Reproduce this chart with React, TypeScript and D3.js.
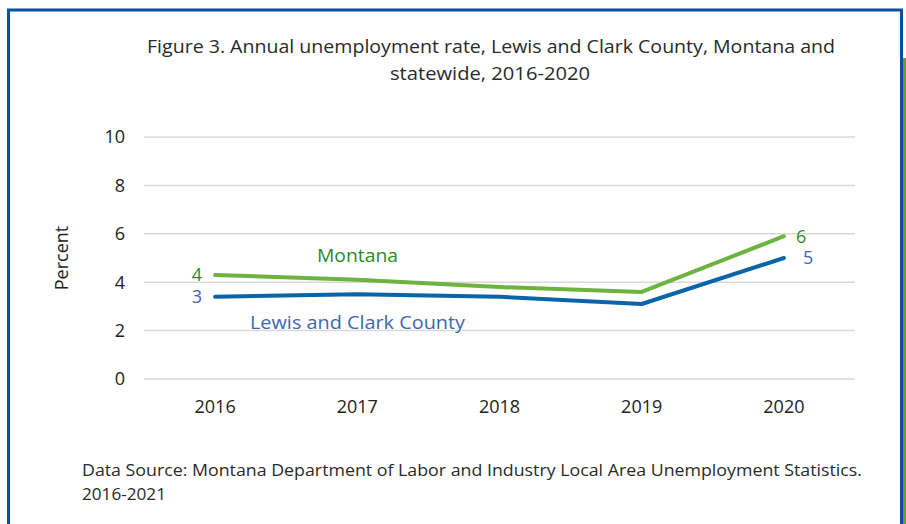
import React from "react";
import * as d3 from "d3";

const years = ["2016", "2017", "2018", "2019", "2020"];
const montana = [4.3, 4.1, 3.8, 3.6, 5.9];
const lewisClark = [3.4, 3.5, 3.4, 3.1, 5.0];
const yTicks = [0, 2, 4, 6, 8, 10];
const montanaEndLabels = ["4", "6"];
const lewisEndLabels = ["3", "5"];

const W = 906;
const H = 524;

export default function App() {
  const x = d3.scaleBand<string>().domain(years).range([144, 855]);
  const y = d3.scaleLinear().domain([0, 10]).range([379, 137]);
  const cx = (d: string) => (x(d) as number) + x.bandwidth() / 2;
  const line = d3
    .line<number>()
    .x((_, i) => cx(years[i]))
    .y((v) => y(v));

  const tickFont = "'Segoe UI', 'Open Sans', 'Noto Sans', sans-serif";
  const textFont = "'Open Sans', 'Noto Sans', sans-serif";
  const textColor = "#2a2a2a";

  return (
    <svg
      width={W}
      height={H}
      style={{ position: "absolute", left: 0, top: 0, background: "#fff" }}
    >
      <rect x={0} y={0} width={W} height={H} fill="#fff" />
      {/* frame */}
      <rect x={903} y={58} width={3} height={H - 58} fill="#6aa121" />
      <path
        d={`M8.5,${H} L8.5,10 L901.5,10 L901.5,${H}`}
        fill="none"
        stroke="#0a4f9f"
        strokeWidth={3}
      />

      <text
        x={147}
        y={53}
        textLength={688}
        lengthAdjust="spacingAndGlyphs"
        fontFamily={textFont}
        fontSize={18.5}
        fill={textColor}
      >
        Figure 3. Annual unemployment rate, Lewis and Clark County, Montana and
      </text>
      <text
        x={390}
        y={80}
        textLength={200}
        lengthAdjust="spacingAndGlyphs"
        fontFamily={textFont}
        fontSize={18.5}
        fill={textColor}
      >
        statewide, 2016-2020
      </text>

      {yTicks.map((t) => (
        <g key={t}>
          <line
            x1={144}
            x2={855}
            y1={y(t)}
            y2={y(t)}
            stroke="#d9d9d9"
            strokeWidth={1.5}
          />
          <text
            x={125}
            y={y(t)}
            dy="0.35em"
            textAnchor="end"
            fontFamily={tickFont}
            fontSize={18}
            fill="#222"
          >
            {t}
          </text>
        </g>
      ))}

      {years.map((yr) => (
        <text
          key={yr}
          x={cx(yr)}
          y={413}
          textAnchor="middle"
          fontFamily={tickFont}
          fontSize={18}
          fill="#222"
        >
          {yr}
        </text>
      ))}

      <text
        transform={`translate(68,258) rotate(-90)`}
        textAnchor="middle"
        fontFamily={tickFont}
        fontSize={18}
        fill="#222"
      >
        Percent
      </text>

      <path
        d={line(montana) || ""}
        fill="none"
        stroke="#6db33f"
        strokeWidth={4}
        strokeLinecap="round"
        strokeLinejoin="round"
      />
      <path
        d={line(lewisClark) || ""}
        fill="none"
        stroke="#0a64a8"
        strokeWidth={4}
        strokeLinecap="round"
        strokeLinejoin="round"
      />

      <text
        x={cx(years[0]) - 13}
        y={y(montana[0])}
        dy="0.35em"
        textAnchor="end"
        fontFamily={tickFont}
        fontSize={18}
        fill="#2e8b23"
      >
        {montanaEndLabels[0]}
      </text>
      <text
        x={cx(years[0]) - 13}
        y={y(lewisClark[0])}
        dy="0.35em"
        textAnchor="end"
        fontFamily={tickFont}
        fontSize={18}
        fill="#3d68b0"
      >
        {lewisEndLabels[0]}
      </text>
      <text
        x={cx(years[4]) + 12}
        y={y(montana[4])}
        dy="0.35em"
        textAnchor="start"
        fontFamily={tickFont}
        fontSize={18}
        fill="#2e8b23"
      >
        {montanaEndLabels[1]}
      </text>
      <text
        x={cx(years[4]) + 19}
        y={y(lewisClark[4])}
        dy="0.35em"
        textAnchor="start"
        fontFamily={tickFont}
        fontSize={18}
        fill="#3d68b0"
      >
        {lewisEndLabels[1]}
      </text>

      <text
        x={317}
        y={262}
        textLength={81}
        lengthAdjust="spacingAndGlyphs"
        fontFamily={textFont}
        fontSize={19}
        fill="#2e8b23"
      >
        Montana
      </text>
      <text
        x={250}
        y={329}
        textLength={215}
        lengthAdjust="spacingAndGlyphs"
        fontFamily={textFont}
        fontSize={19}
        fill="#3d68b0"
      >
        Lewis and Clark County
      </text>

      <text
        x={82}
        y={476}
        textLength={780}
        lengthAdjust="spacingAndGlyphs"
        fontFamily={textFont}
        fontSize={16.5}
        fill={textColor}
      >
        Data Source: Montana Department of Labor and Industry Local Area Unemployment Statistics.
      </text>
      <text
        x={82}
        y={500}
        textLength={84}
        lengthAdjust="spacingAndGlyphs"
        fontFamily={textFont}
        fontSize={16.5}
        fill={textColor}
      >
        2016-2021
      </text>
    </svg>
  );
}
